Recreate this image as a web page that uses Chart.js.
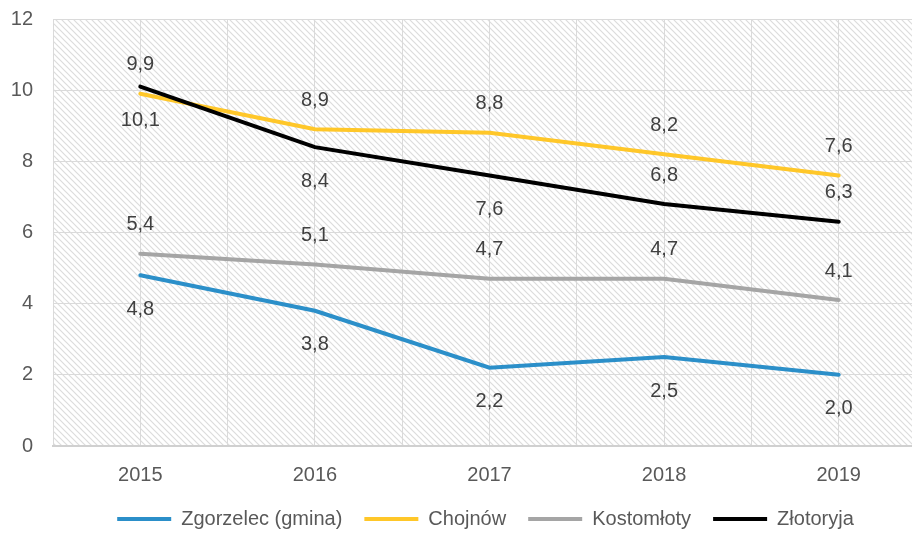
<!DOCTYPE html>
<html>
<head>
<meta charset="utf-8">
<script src="https://cdn.jsdelivr.net/npm/chart.js@4/dist/chart.umd.min.js"></script>
<style>
  body { margin: 0; background: #fff; overflow: hidden; }
</style>
</head>
<body>
<canvas id="myChart" width="975" height="533"></canvas>
<script>
// dane z wykresu
var years = ['2015', '2016', '2017', '2018', '2019'];
var names = ['Zgorzelec (gmina)', 'Chojnów', 'Kostomłoty', 'Złotoryja'];
var zgorzelec = [4.8, 3.8, 2.2, 2.5, 2.0];
var chojnow = [9.9, 8.9, 8.8, 8.2, 7.6];
var kostomloty = [5.4, 5.1, 4.7, 4.7, 4.1];
var zlotoryja = [10.1, 8.4, 7.6, 6.8, 6.3];
var yTicks = [0, 2, 4, 6, 8, 10, 12];

var FONT = "'Liberation Sans', Arial, sans-serif";

function pts(arr) {
    return arr.map(function (v, i) { return { x: i, y: v }; });
}

// kreskowane tlo
var pc = document.createElement('canvas');
pc.width = 6; pc.height = 6;
var p = pc.getContext('2d');
p.strokeStyle = '#dcdcdc';
p.lineWidth = 1.2;
p.beginPath();
p.moveTo(-1, -1); p.lineTo(7, 7);
p.moveTo(-1, 5); p.lineTo(1, 7);
p.moveTo(5, -1); p.lineTo(7, 1);
p.stroke();

var hatch = {
    id: 'hatch',
    afterLayout: function (chart) {
        // legenda troche w prawo, jak w oryginale
        chart.legend.left += 17;
        chart.legend.right += 17;
    },
    beforeDraw: function (chart) {
        var a = chart.chartArea;
        var ctx = chart.ctx;
        ctx.save();
        ctx.fillStyle = ctx.createPattern(pc, 'repeat');
        ctx.fillRect(a.left, a.top, a.right - a.left, a.bottom - a.top);
        ctx.restore();
    }
};

// etykiety wartosci
var labelsPlugin = {
    id: 'vals',
    afterDatasetsDraw: function (chart) {
        var ctx = chart.ctx;
        ctx.save();
        ctx.font = '20px ' + FONT;
        ctx.fillStyle = '#404040';
        ctx.textAlign = 'center';
        ctx.textBaseline = 'middle';
        chart.data.datasets.forEach(function (ds, i) {
            var meta = chart.getDatasetMeta(i);
            meta.data.forEach(function (pt, j) {
                var v = ds.data[j].y;
                var dy = ds.labelPos[j] === 'a' ? -29 : 34;
                ctx.fillText(v.toFixed(1).replace('.', ','), pt.x, pt.y + dy);
            });
        });
        ctx.restore();
    }
};

var ctx = document.getElementById('myChart');
var myChart = new Chart(ctx, {
    type: 'line',
    data: {
        datasets: [{
            label: names[0],
            data: pts(zgorzelec),
            borderColor: '#2b8fc9',
            backgroundColor: '#2b8fc9',
            labelPos: ['b', 'b', 'b', 'b', 'b']
        }, {
            label: names[1],
            data: pts(chojnow),
            borderColor: '#ffc729',
            backgroundColor: '#ffc729',
            labelPos: ['a', 'a', 'a', 'a', 'a']
        }, {
            label: names[2],
            data: pts(kostomloty),
            borderColor: '#a5a5a5',
            backgroundColor: '#a5a5a5',
            labelPos: ['a', 'a', 'a', 'a', 'a']
        }, {
            label: names[3],
            data: pts(zlotoryja),
            borderColor: '#000000',
            backgroundColor: '#000000',
            labelPos: ['b', 'b', 'b', 'a', 'a'],
            order: -1
        }]
    },
    options: {
        responsive: false,
        animation: false,
        elements: {
            line: { borderWidth: 4, tension: 0, borderCapStyle: 'round' },
            point: { radius: 0, hoverRadius: 0, borderWidth: 4 }
        },
        layout: { padding: { left: 11, right: 49, top: 19, bottom: -6 } },
        scales: {
            x: {
                type: 'linear',
                min: -0.5,
                max: 4.5,
                grid: { color: '#dadada', drawTicks: false },
                border: { color: '#d0d0d0', width: 2 },
                ticks: {
                    stepSize: 0.5,
                    autoSkip: false,
                    maxRotation: 0,
                    padding: 17,
                    color: '#595959',
                    font: { size: 20, family: FONT },
                    callback: function (v) { return Number.isInteger(v) ? years[v] : ''; }
                },
                afterFit: function (s) {
                    s.paddingLeft = 0; s.paddingRight = 0;
                    s.height = 41;
                }
            },
            y: {
                min: yTicks[0],
                max: yTicks[yTicks.length - 1],
                grid: { color: '#dadada', drawTicks: false },
                border: { display: false },
                ticks: {
                    stepSize: 2,
                    padding: 20,
                    color: '#595959',
                    font: { size: 20, family: FONT }
                },
                afterFit: function (s) {
                    s.paddingTop = 0; s.paddingBottom = 0;
                    s.width = 42;
                }
            }
        },
        plugins: {
            tooltip: { enabled: false },
            legend: {
                position: 'bottom',
                labels: {
                    usePointStyle: true,
                    pointStyle: 'line',
                    pointStyleWidth: 54,
                    padding: 22,
                    color: '#595959',
                    font: { size: 20, family: FONT },
                    sort: function (a, b) { return a.datasetIndex - b.datasetIndex; }
                }
            }
        }
    },
    plugins: [hatch, labelsPlugin]
});
</script>
</body>
</html>
